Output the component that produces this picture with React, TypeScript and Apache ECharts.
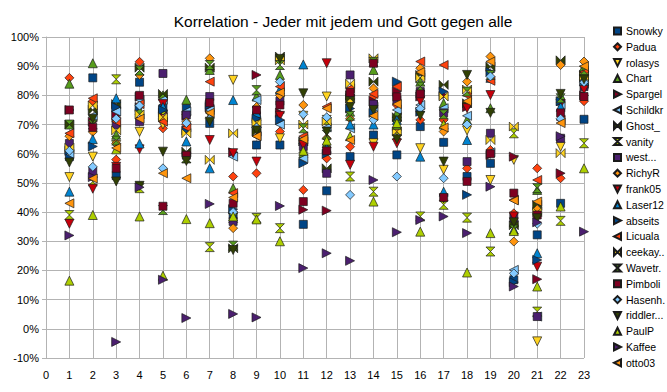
import React, { useEffect, useRef } from "react";
import * as echarts from "echarts";

const xTicks = [0, 1, 2, 3, 4, 5, 6, 7, 8, 9, 10, 11, 12, 13, 14, 15, 16, 17, 18, 19, 20, 21, 22, 23];
const positions = [1, 2, 3, 4, 5, 6, 7, 8, 9, 10, 11, 12, 13, 14, 15, 16, 17, 18, 19, 20, 21, 22, 23];

const snowky = [59, 86, 52.5, 84.5, 75.5, 75.5, 70.4, 39, 63, 63, 35.8, 47.3, 59, 66.4, 59.6, 69.3, 63.9, 52.2, 56.7, 16.8, 32.2, 43, 71.8];
const padua = [86, 78, 58, 91.5, 68.7, 70, 74.4, 52.2, 53.3, 67.6, 47.6, 58.4, 62.4, 79.6, 76.7, 71.6, 71.6, 55, 61.3, 39.6, 55, 51.6, 78];
const rolasys = [52, 59, 63, 67.5, 70, 72, 73.3, 85.3, 70, 65.3, 73, 79.6, 77.3, 63.6, 70, 61.9, 54.5, 68, 51, 57.9, -4.3, 62.4, 83.6];
const chart = [84, 91, 66.5, 75, 80, 78.5, 88.7, 48.2, 79.6, 87, 60.2, 63.6, 74.4, 88.7, 73.9, 84.7, 77.3, 71.6, 75.6, 36.5, 47.6, 80, 89.8];
const spargel = [75, 71, 73, 79.5, 74, 73, 76, 60.5, 87, 74, 40.8, 40.5, 80, 78, 81.3, 79.6, 80, 76, 59.6, 59, 17, 53.3, 80];
const schildkr = [60, 73, 74.5, 78.5, 78.5, 74.5, 75, 59, 78.4, 70, 58.4, 69, 68.7, 76.1, 75, 76.7, 75.6, 73, 60.5, 20.2, 4.2, 76.7, 84];
const ghost = [70, 75, 77, 89.5, 80.5, 60.7, 89.5, 27.6, 67.6, 93.3, 64.2, 55, 79, 84.7, 72.5, 87, 83.6, 77.3, 89.8, 35.5, 42.5, 92, 87];
const vanity = [39, 50.5, 85.5, 48.2, 73.3, 58.4, 28, 38, 38, 34.5, 62, 71.6, 52.2, 47, 66.4, 38.5, 42.5, 38.1, 26.5, 67, 5.9, 37, 63.6];
const west = [63.5, 54, 70, 71, 87.5, 73.3, 79.6, 36.8, 73, 78, 62.5, 53.3, 87, 77, 78.4, 81.3, 74, 57.3, 67, 38, 4.2, 65.3, 83];
const richyR = [66, 67.5, 63.5, 87, 72, 71, 92.7, 34.5, 76, 80, 76.7, 65.3, 72, 82.4, 68.5, 89.3, 67.6, 84.7, 93.3, 29.9, 41, 90.4, 91.6];
const frank05 = [36, 48, 55.5, 61.5, 77, 59, 64.7, 60.2, 57.3, 73, 63, 91, 56.2, 62.4, 63.6, 78, 44.7, 75.6, 80.1, 38.5, 21.3, 77, 82];
const laser12 = [47, 65, 79, 63.5, 76, 64.2, 55, 78.4, 74, 82, 90.6, 62, 70, 70, 71.6, 59, 47, 64.7, 86, 34, 25.9, 76.1, 85];
const abseits = [61, 62.5, 76, 76, 75, 68, 76.7, 41, 72, 71.6, 56.7, 60, 75.5, 74, 84.7, 74.4, 81.3, 45.9, 88, 16, 23.6, 78, 86];
const licuala = [67, 79, 71, 77, 71, 69, 84.7, 46.5, 66, 83, 66, 76.1, 82.4, 80.5, 83, 91.6, 90.4, 80, 85, 44.2, 51, 71.6, 88];
const ceekay = [62, 76.5, 68, 73.5, 72.5, 67, 57.9, 67, 70.5, 92, 70, 71, 84, 92.7, 67.6, 86, 79.6, 82, 64.7, 69.3, 40, 60.2, 86.5];
const wavetr = [70, 70, 64.5, 88.5, 40.7, 58.5, 90.4, 28.5, 81.8, 90.4, 68.7, 66.5, 73, 91.5, 69.9, 83, 73.5, 81.3, 87, 34, 48.2, 79, 88.5];
const pimboli = [75, 69, 55, 80, 42, 59.5, 77.5, 43, 75, 76.7, 43.6, 61, 81, 91, 79.5, 80.5, 45, 50.5, 60, 46.5, 39, 74, 79.6];
const hasenh = [61, 55.5, 72, 76.5, 55, 70.5, 72, 40, 69, 84.7, 73.5, 72.5, 45.9, 71.6, 52.2, 75.5, 51.6, 70, 86.5, 19, 36, 72, 84.5];
const riddler = [57, 72, 50.5, 49, 60.7, 57.5, 71, 27, 68, 92.5, 80.7, 67.6, 76, 75, 65, 73, 57.3, 87, 74, 36.5, 37.9, 80.5, 85.5];
const paulP = [16.5, 39, 61.5, 38.5, 18.2, 37.6, 36.2, 38.5, 37.5, 30, 61, 64.5, 66, 43.6, 70.5, 33.3, 70, 19.3, 32.8, 33.5, 14.5, 41.9, 55];
const kaffee = [32, 52, -4.5, 48.5, 16.8, 3.7, 42.8, 5.1, 3.9, 42.1, 20.8, 25.9, 23.3, 51, 33.1, 37.3, 38.5, 32.8, 48.7, 14.5, 36.5, 66, 33.3];
const otto03 = [43, 51.5, 62, 72, 53.3, 51.6, 74, 45, 66, 81, 65, 75.5, 64.7, 73, 77, 88, 69, 78, 91.6, 44, 43.6, 70.5, 90];

const names = ["Snowky", "Padua", "rolasys", "Chart", "Spargel", "Schildkr", "Ghost_", "vanity", "west...", "RichyR", "frank05", "Laser12", "abseits", "Licuala", "ceekay..", "Wavetr.", "Pimboli", "Hasenh.", "riddler...", "PaulP", "Kaffee", "otto03"];
const values = [snowky, padua, rolasys, chart, spargel, schildkr, ghost, vanity, west, richyR, frank05, laser12, abseits, licuala, ceekay, wavetr, pimboli, hasenh, riddler, paulP, kaffee, otto03];
const palette = ["#004586", "#ff420e", "#ffd320", "#579d1c", "#7e0021", "#83caff", "#314004", "#aecf00", "#4b1f6f", "#ff950e", "#c5000b", "#0084d1"];

const SYM = {
  square: "rect",
  diamond: "diamond",
  down: "path://M0,0L10,0L5,10Z",
  up: "path://M5,0L10,10L0,10Z",
  right: "path://M0,0L10,5L0,10Z",
  left: "path://M10,0L0,5L10,10Z",
  bowtie: "path://M0,0L5,5L0,10ZM10,0L5,5L10,10Z",
  hourglass: "path://M0,0L10,0L5,5ZM0,10L10,10L5,5Z",
};
const symbolOrder = [SYM.square, SYM.diamond, SYM.down, SYM.up, SYM.right, SYM.left, SYM.bowtie, SYM.hourglass];

export default function App() {
  const ref = useRef<HTMLDivElement>(null);
  useEffect(() => {
    if (!ref.current) return;
    const chartInst = echarts.init(ref.current, undefined, { renderer: "svg" });
    const series = names.map((name, i) => {
      const sym = symbolOrder[i % symbolOrder.length];
      return {
        name,
        type: "scatter",
        symbol: sym,
        symbolSize: sym === "rect" ? 8 : 9,
        itemStyle: { color: palette[i % palette.length], borderColor: "#1a1a1a", borderWidth: 0.7, opacity: 1 },
        data: values[i].map((v, j) => [positions[j], v]),
      };
    });
    chartInst.setOption({
      animation: false,
      title: {
        text: "Korrelation - Jeder mit jedem und Gott gegen alle",
        left: 338,
        top: 8,
        textAlign: "center",
        textStyle: { fontFamily: "Liberation Sans", fontSize: 15.5, fontWeight: "normal", color: "#000" },
      },
      legend: {
        orient: "vertical",
        left: 608,
        top: 20,
        itemWidth: 7,
        itemHeight: 7,
        itemGap: 3.8,
        textStyle: { fontFamily: "Liberation Sans", fontSize: 10.5, lineHeight: 12, color: "#000" },
        data: names,
      },
      grid: { left: 46, right: 83, top: 37, bottom: 34 },
      xAxis: {
        type: "value",
        min: 0,
        max: 23,
        interval: 1,
        axisLine: { show: true, lineStyle: { color: "#b3b3b3" } },
        axisTick: { show: true, length: 4, lineStyle: { color: "#b3b3b3" } },
        splitLine: { show: true, lineStyle: { color: "#b3b3b3" } },
        axisLabel: {
          margin: 11,
          fontFamily: "Liberation Sans",
          fontSize: 11,
          color: "#000",
          formatter: (v: number) => (xTicks.includes(v) ? String(v) : ""),
        },
      },
      yAxis: {
        type: "value",
        min: -10,
        max: 100,
        interval: 10,
        axisLine: { show: true, lineStyle: { color: "#b3b3b3" } },
        axisTick: { show: true, length: 4, lineStyle: { color: "#b3b3b3" } },
        splitLine: { show: true, lineStyle: { color: "#b3b3b3" } },
        axisLabel: { margin: 7, fontFamily: "Liberation Sans", fontSize: 11, color: "#000", formatter: "{value}%" },
      },
      series,
    });
    return () => chartInst.dispose();
  }, []);
  return <div ref={ref} style={{ position: "fixed", left: 0, top: 0, width: 667, height: 392, background: "#fff" }} />;
}
